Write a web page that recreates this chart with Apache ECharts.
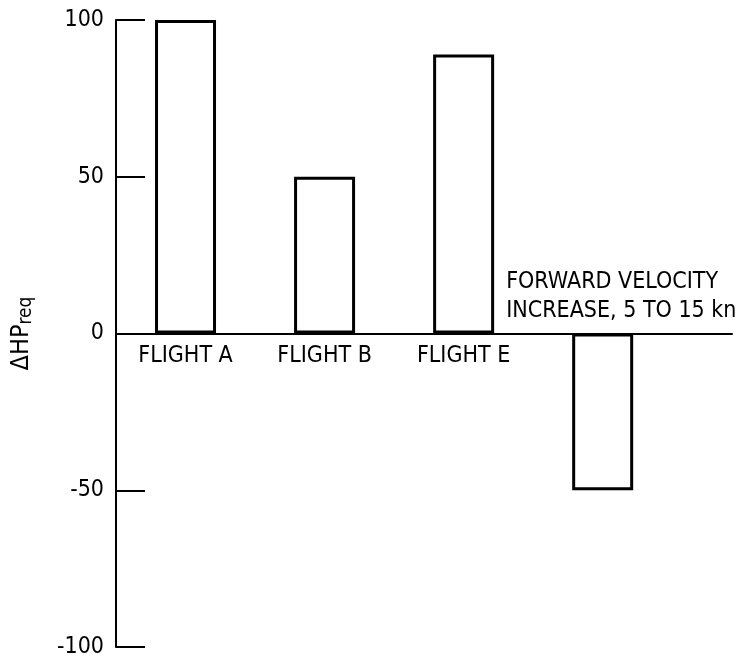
<!DOCTYPE html>
<html>
<head>
<meta charset="utf-8">
<script src="https://cdn.jsdelivr.net/npm/echarts@6/dist/echarts.min.js"></script>
<style>
html,body{margin:0;padding:0;background:#fff;}
#chart{width:742px;height:662px;}
</style>
</head>
<body>
<div id="chart"></div>
<script>
var categories = ['FLIGHT A', 'FLIGHT B', 'FLIGHT E', 'FORWARD VELOCITY\nINCREASE, 5 TO 15 kn'];
var values = [100, 50, 89, -50];
var yTicks = [-100, -50, 0, 50, 100];
var yAxisName = 'ΔHP';
var yAxisSub = 'req';

var FONT = "'DejaVu Sans Condensed', 'Liberation Sans Narrow', sans-serif";

var barData = values.map(function (v, i) { return [i + 0.5, v]; });
var labelData = categories.map(function (c, i) {
  var neg = values[i] < 0;
  return {
    value: [i + 0.5, 0],
    label: neg ? {
      show: true, formatter: c, position: [-96, -65], align: 'left', verticalAlign: 'top',
      lineHeight: 29, fontSize: 23, fontFamily: FONT, color: '#000'
    } : {
      show: true, formatter: c, position: 'bottom', distance: 11,
      fontSize: 23, fontFamily: FONT, color: '#000'
    }
  };
});

var chart = echarts.init(document.getElementById('chart'), null, { renderer: 'canvas' });
chart.setOption({
  backgroundColor: '#fff',
  animation: false,
  grid: { left: 116, width: 616, top: 20, bottom: 15, containLabel: false, outerBoundsMode: 'none' },
  xAxis: {
    type: 'value', min: 0, max: 4.43,
    splitLine: { show: false },
    axisTick: { show: false },
    axisLabel: { show: false },
    axisLine: { show: true, onZero: true, lineStyle: { color: '#000', width: 2 } }
  },
  yAxis: {
    type: 'value', min: yTicks[0], max: yTicks[yTicks.length - 1], interval: 50,
    splitLine: { show: false },
    axisLine: { show: true, onZero: false, lineStyle: { color: '#000', width: 2 } },
    axisTick: { show: true, inside: true, length: 29, lineStyle: { color: '#000', width: 2 } },
    axisLabel: { margin: 12, fontSize: 23, fontFamily: FONT, color: '#000' },
    name: '{a|' + yAxisName + '}{b|' + yAxisSub + '}',
    nameLocation: 'middle',
    nameGap: 80,
    nameRotate: 90,
    nameTextStyle: {
      rich: {
        a: { fontSize: 25, fontFamily: FONT, color: '#000', verticalAlign: 'top' },
        b: { fontSize: 19, fontFamily: FONT, color: '#000', verticalAlign: 'bottom', padding: [8, 0, 0, 0] }
      }
    }
  },
  series: [
    {
      type: 'bar',
      data: barData,
      barWidth: 61,
      itemStyle: { color: '#fff', borderColor: '#000', borderWidth: 3 },
      z: 3
    },
    {
      type: 'scatter',
      data: labelData,
      symbolSize: 1,
      itemStyle: { color: '#000', opacity: 1 },
      label: { color: '#000', opacity: 1 },
      emphasis: { disabled: true },
      silent: true,
      z: 4
    }
  ]
});
</script>
</body>
</html>
